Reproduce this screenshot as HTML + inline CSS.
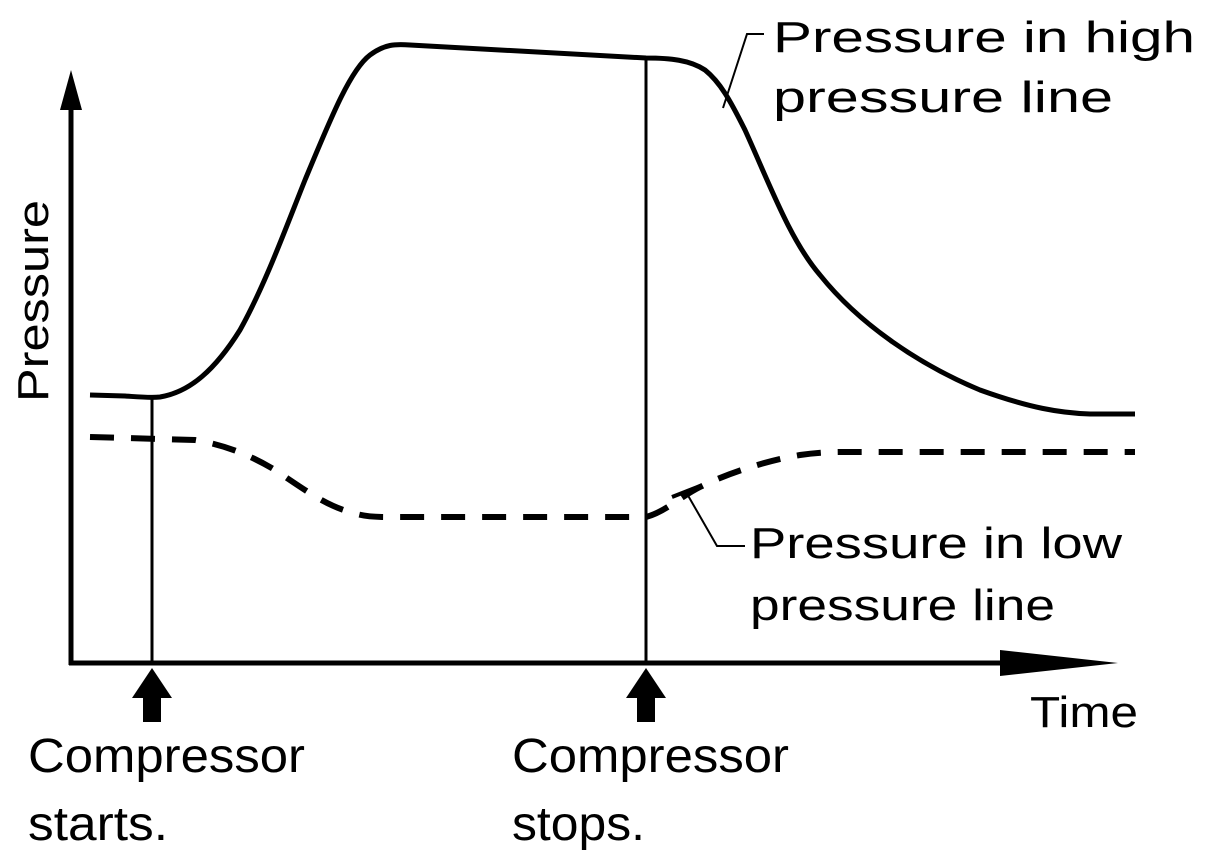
<!DOCTYPE html>
<html><head><style>body{margin:0;background:#fff}svg{display:block}</style></head><body>
<svg width="1216" height="860" viewBox="0 0 1216 860" xmlns="http://www.w3.org/2000/svg" font-family="Liberation Sans, Arial, sans-serif" fill="#000">
<rect width="1216" height="860" fill="#fff"/>
<!-- axes -->
<line x1="71" y1="100" x2="71" y2="665" stroke="#000" stroke-width="5"/>
<polygon points="71,70 60,110 82,110"/>
<line x1="69" y1="663" x2="1010" y2="663" stroke="#000" stroke-width="5"/>
<polygon points="1000,650 1000,676 1118,663"/>
<!-- vertical lines -->
<line x1="152" y1="398" x2="152" y2="663" stroke="#000" stroke-width="3"/>
<line x1="646" y1="58" x2="646" y2="663" stroke="#000" stroke-width="3"/>
<!-- up arrows -->
<polygon points="152,668 132,698 172,698"/><rect x="143" y="697" width="18" height="25"/>
<polygon points="646,668 626,698 666,698"/><rect x="637" y="697" width="18" height="25"/>
<!-- high curve -->
<path d="M90,395 L125,396 C140,397 150,398 160,397 C190,392 215,370 240,330 C265,285 285,230 305,180 C330,120 350,70 370,55 C385,44 395,44 410,45 L646,58 C670,58 690,60 705,70 C720,82 730,100 745,130 C770,185 790,240 820,275 C860,325 920,365 980,390 C1030,408 1060,413 1090,414 L1135,414" fill="none" stroke="#000" stroke-width="5"/>
<!-- low dashed -->
<path d="M90,437 L195,440 C225,445 250,455 275,470 C305,490 325,505 350,512 C365,517 375,517 390,517 L646,517 C665,512 680,497 700,487 C730,472 770,460 800,455 C820,452 835,452 850,452 L1135,452" fill="none" stroke="#000" stroke-width="6" stroke-dasharray="24,17"/>
<!-- leaders -->
<polyline points="764,34 747,34 723,108" fill="none" stroke="#000" stroke-width="2"/>
<polyline points="745,546 717,546 686,492" fill="none" stroke="#000" stroke-width="2"/>
<line x1="672" y1="497" x2="700" y2="486" stroke="#000" stroke-width="4"/>
<!-- text -->
<g font-size="44">
<text x="773" y="52" textLength="422" lengthAdjust="spacingAndGlyphs">Pressure in high</text>
<text x="773" y="112" textLength="340" lengthAdjust="spacingAndGlyphs">pressure line</text>
<text x="750" y="558" textLength="372" lengthAdjust="spacingAndGlyphs">Pressure in low</text>
<text x="750" y="620" textLength="305" lengthAdjust="spacingAndGlyphs">pressure line</text>
<text x="1030" y="727" textLength="108" lengthAdjust="spacingAndGlyphs">Time</text>
<text transform="translate(48,402) rotate(-90)" textLength="202" lengthAdjust="spacingAndGlyphs">Pressure</text>
</g>
<g font-size="48">
<text x="28" y="772" textLength="277" lengthAdjust="spacingAndGlyphs">Compressor</text>
<text x="28" y="840" textLength="140" lengthAdjust="spacingAndGlyphs">starts.</text>
<text x="512" y="772" textLength="277" lengthAdjust="spacingAndGlyphs">Compressor</text>
<text x="512" y="840" textLength="133" lengthAdjust="spacingAndGlyphs">stops.</text>
</g>
</svg>
</body></html>
